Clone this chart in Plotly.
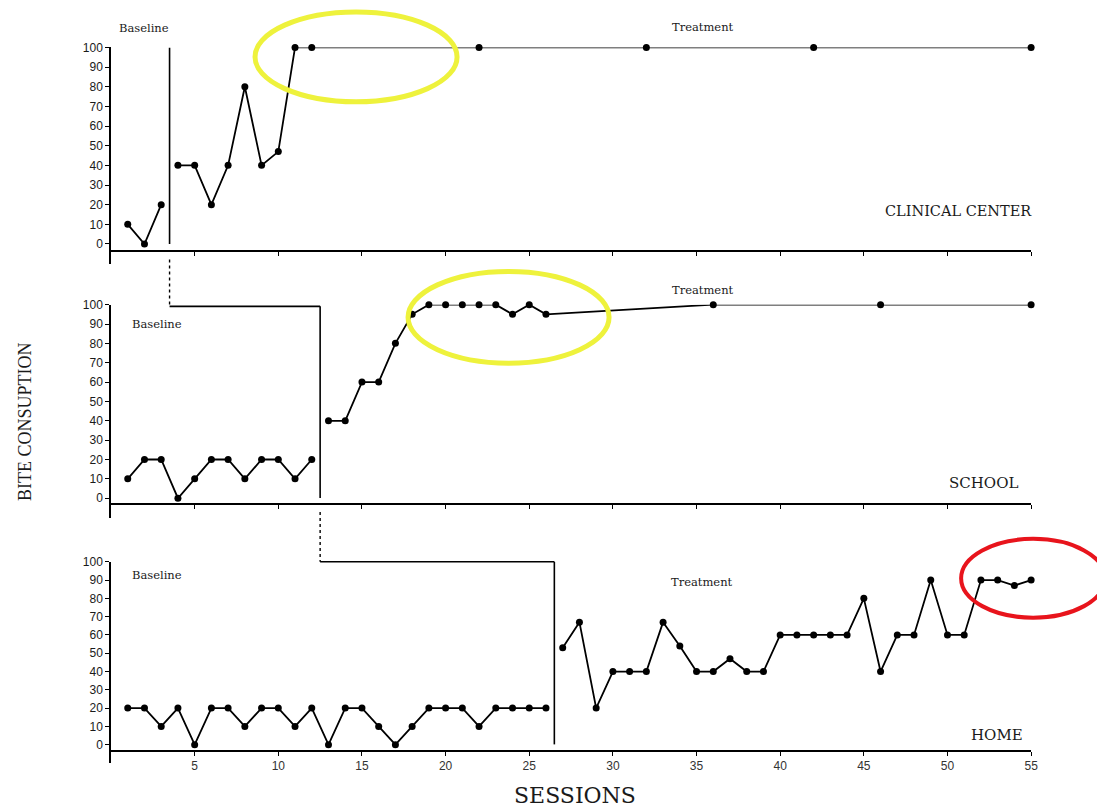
import plotly.graph_objects as go

# ---------------- data ----------------
clin_base_x = [1, 2, 3]
clin_base_y = [10, 0, 20]
clin_treat_x = [4, 5, 6, 7, 8, 9, 10, 11, 12, 22, 32, 42, 55]
clin_treat_y = [40, 40, 20, 40, 80, 40, 47, 100, 100, 100, 100, 100, 100]

school_base_x = list(range(1, 13))
school_base_y = [10, 20, 20, 0, 10, 20, 20, 10, 20, 20, 10, 20]
school_treat_x = list(range(13, 27)) + [36, 46, 55]
school_treat_y = [40, 40, 60, 60, 80, 95, 100, 100, 100, 100, 100, 95, 100, 95, 100, 100, 100]

home_base_x = list(range(1, 27))
home_base_y = [20, 20, 10, 20, 0, 20, 20, 10, 20, 20, 10, 20, 0, 20, 20, 10, 0, 10,
               20, 20, 20, 10, 20, 20, 20, 20]
home_treat_x = list(range(27, 56))
home_treat_y = [53, 67, 20, 40, 40, 40, 67, 54, 40, 40, 47, 40, 40, 60, 60, 60, 60, 60,
                80, 40, 60, 60, 90, 60, 60, 90, 90, 87, 90]

x_ticks = [5, 10, 15, 20, 25, 30, 35, 40, 45, 50, 55]
y_ticks = [0, 10, 20, 30, 40, 50, 60, 70, 80, 90, 100]

phase_top = 3.5
phase_mid = 12.5
phase_bot = 26.5

# ---------------- layout helpers ----------------
W, H = 1097, 808
# small calibration of the capture (observed uniform shrink + vertical shift)
S, OX, OY = 0.9935, 0.0, 5.0
def px(x):
    return ((x - OX) / S) / W
def py(y):
    return 1 - ((y - OY) / S) / H

SERIF = "Liberation Serif"
WSERIF = "DejaVu Serif"
SANS = "Liberation Sans"

fig = go.Figure()

line_style = dict(color="black", width=1.8)
marker_style = dict(color="black", size=7)

panels = [
    ("x", "y", clin_base_x, clin_base_y, clin_treat_x, clin_treat_y),
    ("x2", "y2", school_base_x, school_base_y, school_treat_x, school_treat_y),
    ("x3", "y3", home_base_x, home_base_y, home_treat_x, home_treat_y),
]
for xa, ya, bx, by, tx, ty in panels:
    fig.add_trace(go.Scatter(x=bx, y=by, xaxis=xa, yaxis=ya, mode="lines+markers",
                             line=line_style, marker=marker_style, cliponaxis=False,
                             showlegend=False, hoverinfo="skip"))
    fig.add_trace(go.Scatter(x=tx, y=ty, xaxis=xa, yaxis=ya, mode="lines+markers",
                             line=line_style, marker=marker_style, cliponaxis=False,
                             showlegend=False, hoverinfo="skip"))

# pixel geometry per panel: (pixel of y=100, pixel of y=0, pixel of x-axis line)
geo = [(45.5, 242.5, 249.5), (303.3, 497.3, 503.5), (561, 744.3, 750.7)]
x_left, x_right = 111, 1031
ymin, ymax = -10, 100

axis_common = dict(showline=True, linecolor="black", linewidth=1.5, showgrid=False,
                   zeroline=False, ticks="outside", ticklen=4, tickcolor="black",
                   tickwidth=1.2)

layout_axes = {}
for i, (p100, p0, pax) in enumerate(geo):
    unit = (p0 - p100) / 100.0
    pbottom = p0 - ymin * unit
    ptop = p100 - (ymax - 100) * unit
    suffix = "" if i == 0 else str(i + 1)
    layout_axes["yaxis" + suffix] = dict(
        domain=[py(pbottom), py(ptop)], range=[ymin, ymax], anchor="x" + suffix,
        tickvals=y_ticks, tickfont=dict(family=SANS, size=12, color="#1a1a1a"),
        **axis_common)
    layout_axes["xaxis" + suffix] = dict(
        domain=[px(x_left), px(x_right)], range=[0, 55], anchor="free",
        position=py(pax), tickvals=x_ticks, showticklabels=(i == 2),
        tickfont=dict(family=SANS, size=12, color="#333"),
        **axis_common)

fig.update_layout(**layout_axes)

# ---------------- phase change lines ----------------
shapes = []
blk = dict(color="black", width=1.6)
shapes.append(dict(type="line", xref="x", yref="y", x0=phase_top, x1=phase_top,
                   y0=0, y1=100, line=blk))
shapes.append(dict(type="line", xref="x2", yref="paper", x0=phase_top, x1=phase_top,
                   y0=py(258), y1=py(305), line=dict(color="black", width=1.4, dash="dot")))
shapes.append(dict(type="line", xref="x2", yref="paper", x0=phase_top, x1=phase_mid,
                   y0=py(305), y1=py(305), line=blk))
shapes.append(dict(type="line", xref="x2", yref="paper", x0=phase_mid, x1=phase_mid,
                   y0=py(305), y1=py(497), line=blk))
shapes.append(dict(type="line", xref="x3", yref="paper", x0=phase_mid, x1=phase_mid,
                   y0=py(511), y1=py(561), line=dict(color="black", width=1.4, dash="dot")))
shapes.append(dict(type="line", xref="x3", yref="paper", x0=phase_mid, x1=phase_bot,
                   y0=py(561), y1=py(561), line=blk))
shapes.append(dict(type="line", xref="x3", yref="paper", x0=phase_bot, x1=phase_bot,
                   y0=py(561), y1=py(744), line=blk))

yellow = "#eef23c"
shapes.append(dict(type="circle", xref="paper", yref="paper",
                   x0=px(255), x1=px(457), y0=py(100), y1=py(10),
                   line=dict(color=yellow, width=5)))
shapes.append(dict(type="circle", xref="paper", yref="paper",
                   x0=px(408), x1=px(609), y0=py(362), y1=py(270),
                   line=dict(color=yellow, width=5)))
shapes.append(dict(type="circle", xref="paper", yref="paper",
                   x0=px(961), x1=px(1105), y0=py(617), y1=py(538),
                   line=dict(color="#e8141c", width=4)))
fig.update_layout(shapes=shapes)

# ---------------- text ----------------
def txt(s, x, y, size, xanchor="center", angle=0, family=WSERIF):
    return dict(text=s, x=px(x), y=py(y),
                xref="paper", yref="paper", showarrow=False, xanchor=xanchor,
                yanchor="middle", textangle=angle,
                font=dict(family=family, size=size, color="#1a1a1a"))

ann = [
    txt("Baseline", 117, 26, 11.5, xanchor="left"),
    txt("Treatment", 703, 25, 11.5),
    txt("Baseline", 130, 323, 11.5, xanchor="left"),
    txt("Treatment", 703, 289, 11.5),
    txt("Baseline", 130, 574, 11.5, xanchor="left"),
    txt("Treatment", 702, 581, 11.5),
    txt("CLINICAL CENTER", 1034, 209, 14.5, xanchor="right"),
    txt("SCHOOL", 1020, 482, 15, xanchor="right"),
    txt("HOME", 1025, 735, 15, xanchor="right"),
    txt("SESSIONS", 575, 795, 22),
    txt("BITE CONSUPTION", 25, 421, 18, angle=-90, family=SERIF),
]
fig.update_layout(annotations=ann)

fig.update_layout(width=W, height=H, margin=dict(l=0, r=0, t=0, b=0),
                  paper_bgcolor="white", plot_bgcolor="white", hovermode=False)

post = (
    "document.documentElement.style.margin='0';document.body.style.margin='0';"
    "document.documentElement.style.overflow='hidden';document.body.style.overflow='hidden';"
)
fig.write_html("out.html", config={"displayModeBar": False}, post_script=post)
